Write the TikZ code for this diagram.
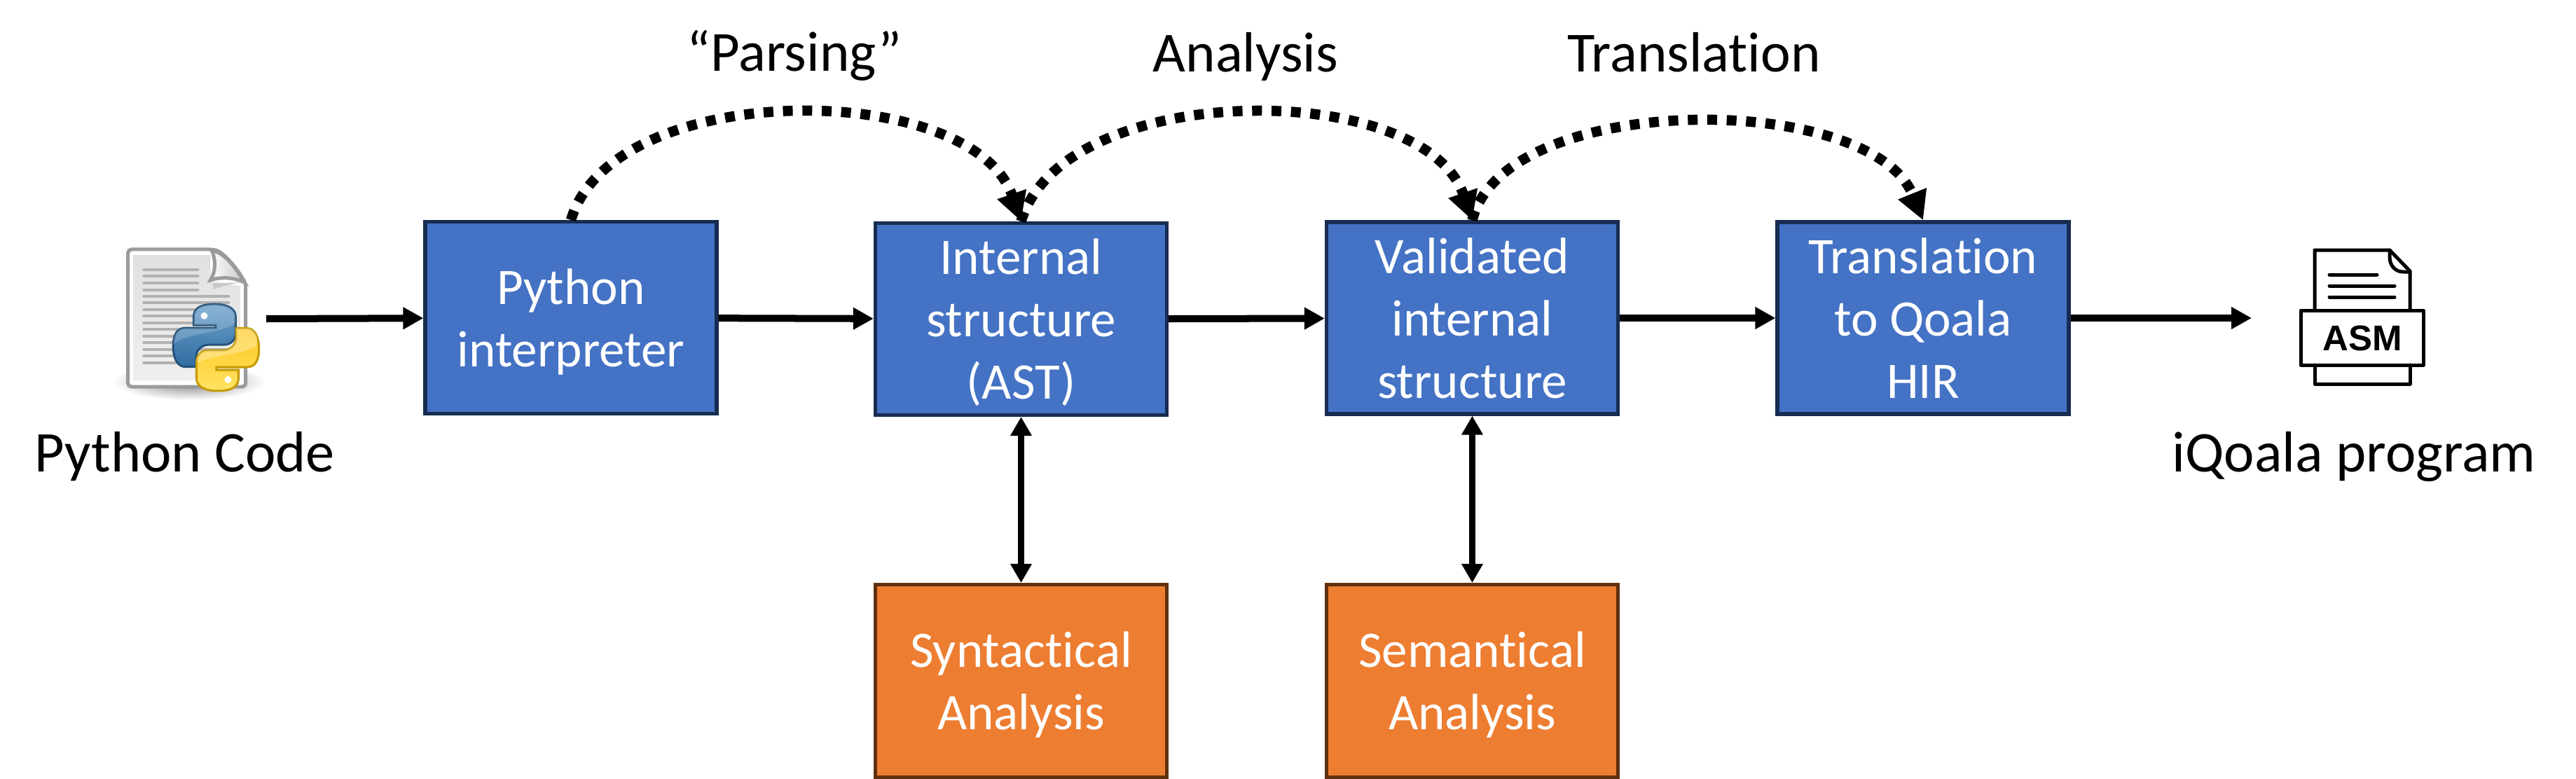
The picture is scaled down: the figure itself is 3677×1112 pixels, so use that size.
\documentclass[tikz,border=0pt]{standalone}
\usepackage{fontspec}
\setmainfont{Carlito}[Ligatures=NoCommon]
\newfontfamily\asmfont{Liberation Sans}
\usetikzlibrary{arrows.meta}

\definecolor{boxblue}{HTML}{4472C4}
\definecolor{boxblueline}{HTML}{172C51}
\definecolor{boxorange}{HTML}{ED7D31}
\definecolor{boxorangeline}{HTML}{60300E}
\definecolor{docline}{HTML}{9B9B9B}
\definecolor{snakeblueup}{HTML}{6FA3CC}
\definecolor{snakebluedown}{HTML}{2F6CA0}
\definecolor{snakeblueline}{HTML}{24527A}
\definecolor{snakeyellowup}{HTML}{FFE264}
\definecolor{snakeyellowdown}{HTML}{FFC81E}
\definecolor{snakeyellowline}{HTML}{C49A00}

\newcommand{\snakepath}{(410,268) .. controls (350,268) and (320,285) .. (320,322) -- (320,358) -- (415,358) -- (415,370) -- (285,370) .. controls (250,370) and (232,395) .. (232,450) .. controls (232,500) and (250,537) .. (285,537) -- (330,537) -- (330,495) .. controls (330,465) and (355,442) .. (385,442) -- (450,442) .. controls (480,442) and (500,420) .. (500,392) -- (500,322) .. controls (500,290) and (470,268) .. (410,268) -- cycle}

\tikzset{
    block/.style={draw, line width=0.055cm, minimum width=4.155cm, minimum height=2.735cm, inner sep=0pt, align=center, text=white, text depth=-0.45pt, font=\fontsize{20.8}{25.3}\selectfont},
    blueblock/.style={block, fill=boxblue, draw=boxblueline},
    orangeblock/.style={block, fill=boxorange, draw=boxorangeline, minimum height=2.745cm},
    caption/.style={inner sep=0pt, anchor=base, font=\fontsize{23}{28}\selectfont},
    flow/.style={line width=0.1cm, -{Triangle[length=0.29cm,width=0.3cm]}},
    both/.style={line width=0.09cm, {Triangle[length=0.27cm,width=0.29cm]}-{Triangle[length=0.27cm,width=0.29cm]}},
    pass/.style={line width=0.145cm, dash pattern=on 0.14cm off 0.137cm, -{Triangle[length=0.41cm,width=0.41cm]}},
}

\begin{document}
\begin{tikzpicture}[x=0.01cm, y=-0.01cm]
    \useasboundingbox (0,0) rectangle (3677,1112);

    % Blocks
    \node[blueblock] (python) at (815,453.5) {Python\\interpreter};
    \node[blueblock] (internal) at (1457.5,455.5) {Internal\\structure\\(AST)};
    \node[blueblock] (validated) at (2101.5,454) {Validated\\internal\\structure};
    \node[blueblock] (translation) at (2745,454) {Translation\\to Qoala\\HIR};
    \node[orangeblock] (syntactical) at (1457.5,972) {Syntactical\\Analysis};
    \node[orangeblock] (semantical) at (2101.5,972) {Semantical\\Analysis};

    % Captions
    \node[caption] (parsing) at (1134,101) {“Parsing”};
    \node[caption] (analysis) at (1778,103) {Analysis};
    \node[caption] (translating) at (2418,103) {Translation};
    \node[caption, font=\fontsize{23.4}{28}\selectfont] (codename) at (264,673) {Python Code};
    \node[caption, font=\fontsize{23.4}{28}\selectfont] (programname) at (3360,673) {iQoala program};

    % Python file
    \begin{scope}[shift={(170,345)}, x=0.003333cm, y=-0.003333cm]
        \shade[inner color=black!50, outer color=white] (300,600) ellipse [x radius=325, y radius=80];
        \draw[line width=0.05cm, draw=docline, fill=white, rounded corners=0.05cm] (38,33) -- (400,33) .. controls (450,45) and (510,120) .. (543,180) -- (543,622) -- (38,622) -- cycle;
        \shade[top color=black!12, bottom color=black!6] (62,57) -- (392,57) -- (392,170) -- (520,190) -- (520,596) -- (62,596) -- cycle;
        \fill[black!22] (402,178) -- (530,175) .. controls (480,180) and (440,190) .. (405,205) -- cycle;
        \shade[left color=white, right color=black!22, draw=docline, line width=0.05cm] (398,38) .. controls (418,90) and (412,130) .. (392,165) .. controls (440,150) and (490,152) .. (538,175) .. controls (500,110) and (450,45) .. (398,38) -- cycle;
        \foreach \y in {120,148,177,206}
            \draw[black!30, line width=0.04cm, line cap=round] (106,\y) -- (338,\y);
        \foreach \y in {234,262,291,320,348,377,405,434,462,491,519}
            \draw[black!30, line width=0.04cm, line cap=round] (106,\y) -- (470,\y);

        % Snakes
        \shade[top color=snakeblueup, bottom color=snakebluedown, draw=snakeblueline, line width=0.03cm] \snakepath;
        \begin{scope}
            \clip \snakepath;
            \fill[white, opacity=0.18] (232,440) .. controls (300,385) and (420,400) .. (500,350) -- (500,260) -- (232,260) -- cycle;
        \end{scope}
        \fill[white] (365,318) circle [radius=15];
        \begin{scope}[rotate around={180:(416,454)}]
            \shade[top color=snakeyellowdown, bottom color=snakeyellowup, draw=snakeyellowline, line width=0.03cm] \snakepath;
            \clip \snakepath;
            \fill[white, opacity=0.3] (497,388) .. controls (432,423) and (332,418) .. (242,458) -- (232,560) -- (510,560) -- cycle;
        \end{scope}
        \fill[white] (467,592) circle [radius=15];
    \end{scope}

    % ASM file
    \begin{scope}[line width=0.05cm, line join=round, line cap=round]
        \draw (3304,443) -- (3304,357) -- (3411,357) -- (3440,387) -- (3440,443);
        \draw (3411,357) -- (3411,367) .. controls (3411,380) and (3420,388) .. (3430,388) -- (3440,388);
        \draw (3325,392) -- (3393,392);
        \draw (3325,408) -- (3418,408);
        \draw (3325,424) -- (3418,424);
        \draw (3284,443) rectangle (3459,521);
        \draw (3304,521) -- (3304,548) -- (3440,548) -- (3440,521);
    \end{scope}
    \node[inner sep=0pt, font=\asmfont\bfseries\fontsize{14.5}{15}\selectfont] (asm) at (3372,483) {ASM};

    \coordinate (codeout) at (380,455);
    \coordinate (asmin) at (3214,454);

    % Straight arrows
    \draw[flow] (codeout) -- (python);
    \draw[flow] (python) -- (internal);
    \draw[flow] (internal) -- (validated);
    \draw[flow] (validated) -- (translation);
    \draw[flow] (translation) -- (asmin);
    \draw[both] (internal) -- (syntactical);
    \draw[both] (validated) -- (semantical);

    % Curved passes
    \draw[pass] (python.north) .. controls +(60,-203) and +(-70,-203) .. (internal.north);
    \draw[pass] (internal.north) .. controls +(60,-203) and +(-70,-203) .. (validated.north);
    \draw[pass] (validated.north) .. controls +(45,-185) and +(-75,-185) .. (translation.north);
\end{tikzpicture}
\end{document}
